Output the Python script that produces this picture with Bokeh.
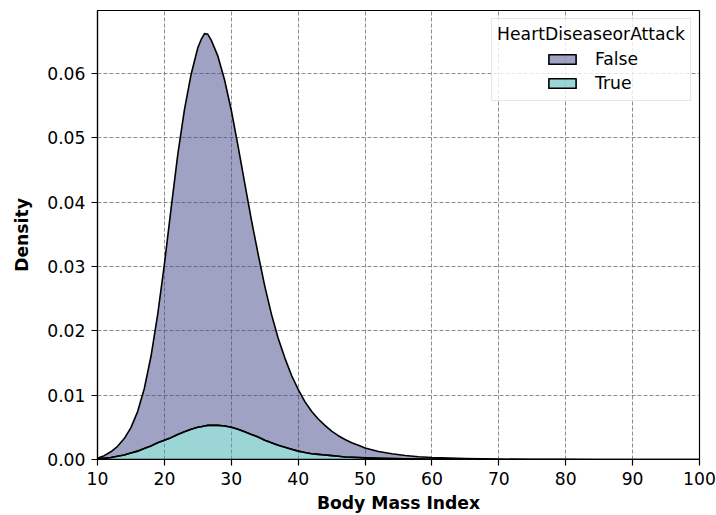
import numpy as np
from bokeh.plotting import figure
from bokeh.models import (Range1d, FixedTicker, PrintfTickFormatter, Legend,
                          LegendItem)
from bokeh.embed import file_html
from bokeh.resources import INLINE

# ---- data (stacked KDE) ----
bmi = [10, 11, 12, 13, 14, 15, 16, 17, 18, 19, 20, 21, 22, 23, 24, 25, 25.5,
       26, 26.5, 27, 28, 29, 30, 31, 32, 33, 34, 35, 36, 37, 38, 39, 40, 41,
       42, 43, 44, 45, 46, 47, 48, 49, 50, 52, 54, 56, 58, 60, 65, 70, 75,
       80, 85, 90, 95, 100]

# top of the stack (False + True)
stack_top = [0.0002, 0.0006, 0.0012, 0.00205, 0.00325, 0.00495, 0.00745,
             0.01105, 0.01605, 0.02255, 0.03035, 0.0390, 0.0474, 0.0544,
             0.0599, 0.0640, 0.0653, 0.0662, 0.0661, 0.0652, 0.0627, 0.0590,
             0.0543, 0.0488, 0.0430, 0.0373, 0.0320, 0.0270, 0.0226, 0.0189,
             0.0158, 0.0131, 0.0109, 0.0090, 0.0075, 0.0063, 0.0053, 0.0044,
             0.0037, 0.0031, 0.0026, 0.0022, 0.0018, 0.00125, 0.0009,
             0.00062, 0.00043, 0.0003, 0.00013, 0.00006, 0.00003, 0.00002,
             0.00001, 0.00001, 0.0, 0.0]

# True (bottom layer)
density_true = [0.0001, 0.0002, 0.0003, 0.0005, 0.0007, 0.0010, 0.0013,
                0.0017, 0.0021, 0.0026, 0.0030, 0.0034, 0.0039, 0.0043,
                0.0047, 0.0050, 0.0051, 0.0052, 0.0053, 0.0053, 0.0053,
                0.0052, 0.0050, 0.0047, 0.0043, 0.0039, 0.0035, 0.0030,
                0.0026, 0.0022, 0.0019, 0.0016, 0.0013, 0.0011, 0.0009,
                0.0008, 0.0007, 0.0006, 0.0005, 0.0004, 0.00035, 0.0003,
                0.00025, 0.00018, 0.00013, 0.0001, 0.00007, 0.00005, 0.00002,
                0.00001, 0.0, 0.0, 0.0, 0.0, 0.0, 0.0]

x_ticks = [10, 20, 30, 40, 50, 60, 70, 80, 90, 100]
y_ticks = [0.0, 0.01, 0.02, 0.03, 0.04, 0.05, 0.06]
categories = ["False", "True"]
legend_title = "HeartDiseaseorAttack"

FONT = "DejaVu Sans"
FS = "17.2px"

x = np.array(bmi, dtype=float)
top = np.array(stack_top, dtype=float)
tru = np.array(density_true, dtype=float)

p = figure(width=716, height=515, x_range=Range1d(10, 100),
           y_range=Range1d(0, 0.0698), output_backend="svg",
           toolbar_location=None, min_border_left=97, min_border_right=17,
           min_border_top=10, min_border_bottom=55)

# True layer polygon (0 .. true)
true_px = np.concatenate([x, x[::-1]])
true_py = np.concatenate([tru, np.zeros_like(tru)])
# False layer polygon (true .. top)
false_px = np.concatenate([x, x[::-1]])
false_py = np.concatenate([top, tru[::-1]])

r_false = p.patch(false_px, false_py, fill_color="#414589", fill_alpha=0.5,
                  line_color="black", line_width=1.6, line_join="round")
r_true = p.patch(true_px, true_py, fill_color="#37abab", fill_alpha=0.5,
                 line_color="black", line_width=1.6, line_join="round")

# axes
p.xaxis.ticker = FixedTicker(ticks=x_ticks)
p.yaxis.ticker = FixedTicker(ticks=y_ticks)
p.yaxis.formatter = PrintfTickFormatter(format="%.2f")
p.xaxis.axis_label = "Body Mass Index"
p.yaxis.axis_label = "Density"
for ax in (p.xaxis, p.yaxis):
    ax.axis_label_text_font = FONT
    ax.axis_label_text_font_size = FS
    ax.axis_label_text_font_style = "bold"
    ax.axis_label_text_color = "black"
    ax.major_label_text_font = FONT
    ax.major_label_text_font_size = FS
    ax.major_label_text_color = "black"
    ax.major_tick_out = 6
    ax.major_tick_in = 0
    ax.minor_tick_out = 0
    ax.minor_tick_in = 0
    ax.major_tick_line_color = "black"
    ax.major_tick_line_width = 1.2
    ax.axis_line_color = "black"
    ax.axis_line_width = 1.2
    ax.major_label_standoff = 6
p.xaxis.axis_label_standoff = 5
p.yaxis.axis_label_standoff = 12

p.grid.grid_line_color = "#808080"
p.grid.grid_line_alpha = 0.9
p.grid.grid_line_dash = "4 2"
p.grid.grid_line_width = 1

p.outline_line_color = "black"
p.outline_line_width = 1.2
p.outline_line_alpha = 1.0
p.background_fill_color = "white"
p.border_fill_color = "white"

# legend box with title (placeholder rows)
d1 = p.scatter(x=[], y=[], alpha=0)
d2 = p.scatter(x=[], y=[], alpha=0)
legA = Legend(items=[LegendItem(label=" ", renderers=[d1]),
                     LegendItem(label=" ", renderers=[d2])],
              title=legend_title, location="top_right")
# legend rows (centered under title)
legB = Legend(items=[LegendItem(label=categories[0], renderers=[r_false]),
                     LegendItem(label=categories[1], renderers=[r_true])],
              location=(448, 366))
for lg in (legA, legB):
    lg.label_text_font = FONT
    lg.label_text_font_size = FS
    lg.label_text_color = "black"
    lg.spacing = 4
    lg.label_height = 20
    lg.glyph_height = 12
    lg.glyph_width = 34
    lg.label_standoff = 16
legA.margin = 8
legA.padding = 5
legA.title_text_font = FONT
legA.title_text_font_size = FS
legA.title_text_font_style = "normal"
legA.title_text_color = "black"
legA.title_standoff = 7
legA.border_line_color = "#cccccc"
legA.border_line_width = 1
legA.background_fill_color = "white"
legA.background_fill_alpha = 0.8
legB.padding = 0
legB.margin = 0
legB.border_line_alpha = 0
legB.background_fill_alpha = 0
p.add_layout(legA)
p.add_layout(legB)

open("out.html", "w").write(file_html(p, INLINE))
